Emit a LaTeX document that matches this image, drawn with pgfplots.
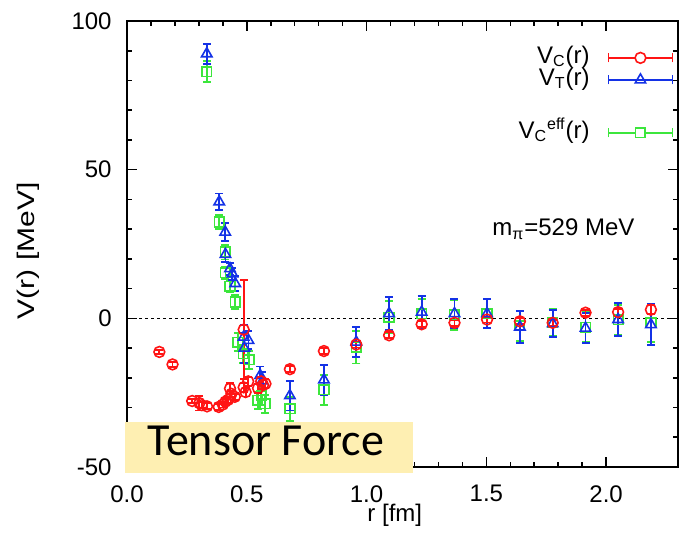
\documentclass[border=0pt]{standalone}
\usepackage{fontspec}
\setmainfont{Liberation Sans}
\newfontfamily\boxfont{Carlito}
\usepackage{pgfplots}
\usepackage{pgfplotstable}
\pgfplotsset{compat=1.18}

\definecolor{vcred}{RGB}{255,20,20}
\definecolor{vtblue}{RGB}{20,50,230}
\definecolor{veffgreen}{RGB}{60,230,60}
\definecolor{boxyellow}{RGB}{254,239,178}

% central potential V_C
\pgfplotstableread{
r v e
0.135 -11.3 0.8
0.190 -15.5 0.8
0.272 -27.8 0.8
0.302 -28.5 2.5
0.312 -29.2 1.0
0.334 -29.6 1.0
0.383 -29.8 1.0
0.400 -29.0 1.0
0.411 -28.0 1.0
0.422 -27.4 1.0
0.430 -23.6 1.8
0.436 -25.4 1.0
0.450 -26.4 1.0
0.487 -3.8 16.6
0.487 -23.2 1.5
0.495 -24.8 1.5
0.506 -21.2 1.5
0.547 -23.5 1.5
0.560 -21.2 1.5
0.568 -22.4 1.5
0.578 -22.0 1.5
0.680 -17.1 1.0
0.822 -11.0 1.0
0.957 -8.8 1.0
1.094 -5.7 1.0
1.230 -2.0 1.0
1.367 -1.5 1.0
1.503 -0.4 1.0
1.640 -1.0 1.0
1.777 -1.5 1.0
1.914 1.9 1.0
2.050 2.1 1.0
2.187 2.9 1.5
}\vctab

% tensor potential V_T
\pgfplotstableread{
r v e
0.333 89.0 3.4
0.385 39.2 2.8
0.410 29.0 3.0
0.411 21.5 2.5
0.430 16.7 2.0
0.440 15.0 2.0
0.452 11.7 2.5
0.487 -6.3 4.0
0.507 -7.4 3.0
0.490 -10.0 5.0
0.556 -19.2 3.0
0.565 -21.0 3.0
0.680 -26.0 5.0
0.822 -20.7 5.0
0.957 -8.0 5.0
1.094 1.6 5.5
1.230 2.1 5.5
1.367 1.6 5.0
1.503 1.6 5.0
1.640 -2.9 5.5
1.777 -1.8 4.6
1.914 -3.3 5.0
2.050 -0.4 5.6
2.187 -2.1 7.0
}\vttab

% effective central potential
\pgfplotstableread{
r v e
0.333 83.0 3.5
0.385 32.4 2.5
0.410 22.3 2.5
0.411 15.3 2.0
0.430 10.8 2.0
0.452 5.5 2.5
0.463 -8.0 3.0
0.486 -11.9 3.0
0.511 -13.9 3.0
0.546 -27.6 3.0
0.576 -28.7 3.0
0.560 -26.0 3.0
0.680 -30.4 4.0
0.822 -24.0 5.0
0.957 -9.7 5.5
1.094 0.4 5.5
1.230 1.6 5.0
1.367 1.2 5.0
1.503 1.6 5.0
1.640 -2.5 5.0
1.777 -1.5 4.5
1.914 -3.0 5.0
2.050 -0.5 5.0
2.187 -1.5 6.5
}\vefftab

\pgfplotsset{
  errbar/.style={forget plot, only marks, mark=o, mark size=0pt,
    error bars/.cd, y dir=both, y explicit,
    error bar style={line width=0.95pt, draw=#1},
    error mark options={rotate=90, mark size=2pt, line width=0.95pt, draw=#1}},
}

\begin{document}
\fontsize{12}{14.4}\selectfont
\begin{tikzpicture}
\useasboundingbox (0,0) rectangle (340pt,274pt);
\begin{axis}[
  at={(63.5pt,40.5pt)}, anchor=south west,
  scale only axis, width=275.5pt, height=223pt,
  xmin=0, xmax=2.3, ymin=-50, ymax=100,
  xtick={0,0.5,1,1.5,2}, xticklabels={0.0,0.5,1.0,1.5,2.0},
  ytick={-50,0,50,100}, yticklabels={-50,0,50,100},
  minor x tick num=4, minor y tick num=4,
  tick align=inside, major tick length=5pt, minor tick length=2.5pt,
  tick style={black, line width=0.8pt},
  axis line style={line width=1pt},
  xticklabel style={yshift=-5pt},
  yticklabel style={xshift=-3.5pt},
  xlabel={r [fm]}, ylabel={V(r) [MeV]},
  xlabel style={at={(rel axis cs:0.486,-0.108)}, anchor=center},
  ylabel style={at={(rel axis cs:-0.18,0.485)}, anchor=center, xscale=1.25},
  legend plot pos=right, legend cell align=right,
  legend style={draw=none, fill=none, at={(rel axis cs:1.003,0.958)}, anchor=north east,
    row sep=-2.75pt, column sep=9pt,
    nodes={inner sep=0pt, text height=9.5pt, text depth=4.25pt}},
]
\addlegendimage{legend image code/.code={
    \draw[draw=vcred, line width=0.8pt] (0pt,0pt) -- (32pt,0pt);
    \draw[draw=vcred, line width=0.8pt] (0pt,-2.2pt) -- (0pt,2.2pt) (32pt,-2.2pt) -- (32pt,2.2pt);
    \draw[draw=vcred, fill=white, line width=0.8pt] (16pt,0pt) circle[radius=2.7pt];}}
\addlegendentry{V\textsubscript{C}(r)}
\addlegendimage{legend image code/.code={
    \draw[draw=vtblue, line width=0.8pt] (0pt,0pt) -- (32pt,0pt);
    \draw[draw=vtblue, line width=0.8pt] (0pt,-2.2pt) -- (0pt,2.2pt) (32pt,-2.2pt) -- (32pt,2.2pt);
    \draw[draw=vtblue, line width=0.8pt] (16pt,3pt) -- (13.4pt,-1.5pt) -- (18.6pt,-1.5pt) -- cycle;}}
\addlegendentry{V\textsubscript{T}(r)}
\addlegendimage{empty legend}
\addlegendentry[text height=14pt]{}
\addlegendimage{legend image code/.code={
    \draw[draw=veffgreen, line width=0.8pt] (0pt,0pt) -- (32pt,0pt);
    \draw[draw=veffgreen, line width=0.8pt] (0pt,-2.2pt) -- (0pt,2.2pt) (32pt,-2.2pt) -- (32pt,2.2pt);
    \draw[draw=veffgreen, fill=white, line width=0.8pt] (13.6pt,-2.4pt) rectangle (18.4pt,2.4pt);}}
\addlegendentry{V\textsubscript{C}\textsuperscript{eff}(r)}

\addplot[forget plot, black, line width=0.5pt, dash pattern=on 1.5pt off 1.5pt]
  coordinates {(0,0) (2.3,0)};

% V_C^eff
\addplot[errbar=veffgreen] table[x=r, y=v, y error=e] {\vefftab};
\addplot[forget plot, only marks, draw=veffgreen, mark=square, mark size=2.4pt,
  mark options={line width=0.8pt, draw=veffgreen}]
  table[x=r, y=v] {\vefftab};

% V_T
\addplot[errbar=vtblue] table[x=r, y=v, y error=e] {\vttab};
\addplot[forget plot, only marks, draw=vtblue, mark=triangle, mark size=3pt,
  mark options={line width=0.8pt, draw=vtblue}]
  table[x=r, y=v] {\vttab};

% V_C
\addplot[errbar=vcred] table[x=r, y=v, y error=e] {\vctab};
\addplot[forget plot, only marks, draw=vcred, mark=o, mark size=2.7pt,
  mark options={line width=0.8pt, draw=vcred}]
  table[x=r, y=v] {\vctab};

\node[anchor=west] at (axis cs:1.49,30) {m\textsubscript{π}=529 MeV};
\end{axis}
\fill[boxyellow] (62.5pt,37.5pt) rectangle (206.5pt,63pt);
\node[anchor=base, inner sep=0pt, font=\boxfont\fontsize{23}{27}\selectfont]
  at (133pt,46.5pt) {Tensor Force};
\end{tikzpicture}
\end{document}
